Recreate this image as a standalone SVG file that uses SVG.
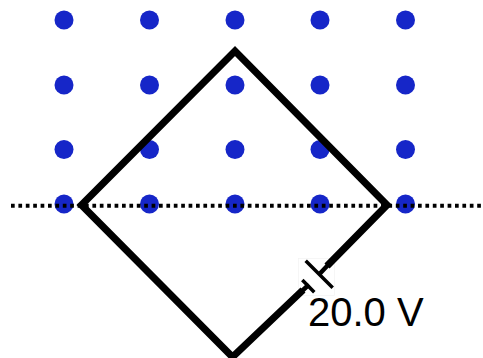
<svg xmlns="http://www.w3.org/2000/svg" width="483" height="358" viewBox="0 0 483 358">
<style>
.dot{fill:#1626c8}
.wire{fill:none;stroke:#000;stroke-width:7.2}
.thin{fill:none;stroke:#000;stroke-width:3.5}
.stub{fill:none;stroke:#000;stroke-width:4.5}
.field{fill:none;stroke:#000;stroke-width:4;stroke-dasharray:3.7 3.7}
text{font-family:"Liberation Sans",Arial,sans-serif;font-size:40px;fill:#000}
</style>
<rect width="483" height="358" fill="#fff"/>
<g id="dots">
<circle class="dot" cx="64" cy="20" r="9.5"/><circle class="dot" cx="149.5" cy="20" r="9.5"/><circle class="dot" cx="235" cy="20" r="9.5"/><circle class="dot" cx="320" cy="20" r="9.5"/><circle class="dot" cx="405.500" cy="20" r="9.5"/>
<circle class="dot" cx="64" cy="85" r="9.5"/><circle class="dot" cx="149.5" cy="85" r="9.5"/><circle class="dot" cx="235" cy="85" r="9.5"/><circle class="dot" cx="320" cy="85" r="9.5"/><circle class="dot" cx="405.500" cy="85" r="9.5"/>
<circle class="dot" cx="64" cy="149.500" r="9.5"/><circle class="dot" cx="149.5" cy="149.500" r="9.5"/><circle class="dot" cx="235" cy="149.500" r="9.5"/><circle class="dot" cx="320" cy="149.500" r="9.5"/><circle class="dot" cx="405.500" cy="149.500" r="9.5"/>
<circle class="dot" cx="64" cy="204" r="9.5"/><circle class="dot" cx="149.5" cy="204" r="9.5"/><circle class="dot" cx="235" cy="204" r="9.5"/><circle class="dot" cx="320" cy="204" r="9.5"/><circle class="dot" cx="405.500" cy="204" r="9.5"/>
</g>
<g id="battery-box">
<rect x="298.500" y="258.500" width="36" height="37" fill="none" stroke="#f2f2f2" stroke-width="0.7"/>
</g>
<g id="connectors">
<path class="field" d="M11 205.700H483"/>
<path class="wire" d="M327 266L387 205L235 51L81.500 205L232.500 357L303 290"/>
<path class="stub" d="M328 265L320 273.500M302 291L309 284.500"/>
</g>
<g id="battery">
<path class="thin" d="M305.700 260.700L332.700 287.700M302.300 280L314.300 292.300"/>
</g>
<text id="label" x="308" y="326">20.0 V</text>
</svg>
